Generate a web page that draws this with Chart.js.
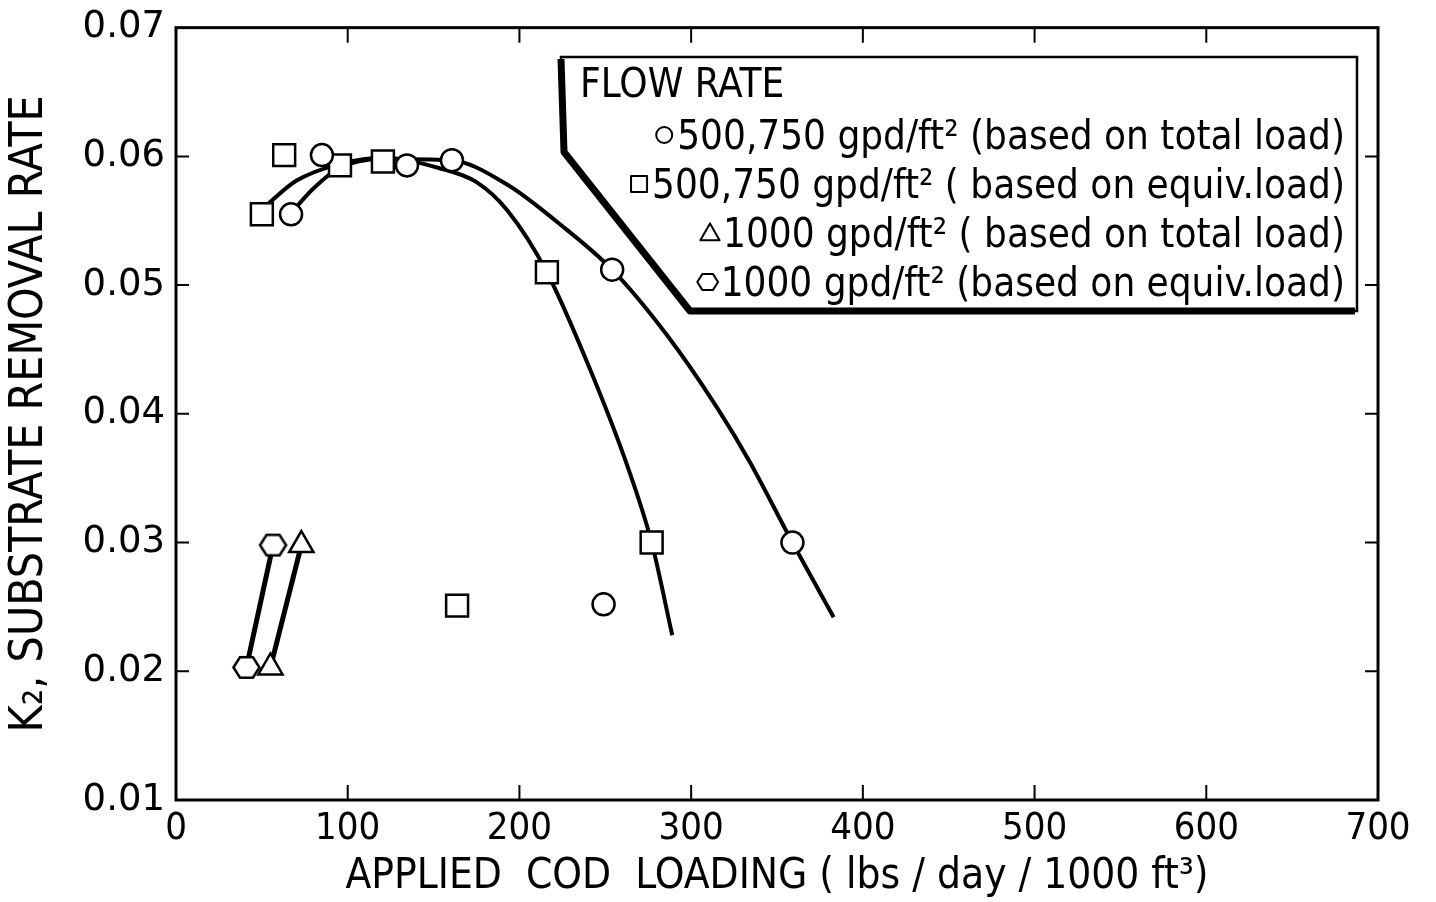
<!DOCTYPE html>
<html>
<head>
<meta charset="utf-8">
<script src="https://cdn.jsdelivr.net/npm/chart.js@4"></script>
<style>
  html, body { margin: 0; padding: 0; background: #fff; }
  #wrap { width: 1436px; height: 902px; }
</style>
</head>
<body>
<div id="wrap"><canvas id="chart"></canvas></div>
<script>
//// K2 vs applied COD loading

const xTicks = [0, 100, 200, 300, 400, 500, 600, 700];
const yTicks = [0.01, 0.02, 0.03, 0.04, 0.05, 0.06, 0.07];

// measured points
const circleX = [67, 85, 134.5, 160.7, 254, 359, 249];
const circleY = [0.0555, 0.0601, 0.0593, 0.0597, 0.0512, 0.0300, 0.0252];
const squareX = [50, 63, 95.5, 120.5, 216, 277, 163.7];
const squareY = [0.0555, 0.0601, 0.0593, 0.0596, 0.0510, 0.0300, 0.0251];
const triangleX = [55, 73];
const triangleY = [0.0203, 0.0298];
const hexagonX = [41, 56.5];
const hexagonY = [0.0203, 0.0298];

// hand drawn fit curves
const totalCurveX = [67, 80, 95, 120, 160, 193, 222, 254, 286, 315, 334, 359, 383];
const totalCurveY = [0.0556, 0.0575, 0.0591, 0.0598, 0.0597, 0.0578, 0.0549, 0.0512, 0.0461, 0.0405, 0.0363, 0.0300, 0.0242];
const equivCurveX = [51, 70, 95, 120, 153, 175, 193, 216, 241, 263, 277, 289];
const equivCurveY = [0.0560, 0.0581, 0.0594, 0.0599, 0.0591, 0.0580, 0.0558, 0.0510, 0.0435, 0.0359, 0.0300, 0.0228];

const legendTitle = 'FLOW RATE';
const legendLabels = [
  '500,750 gpd/ft\u00B2 (based on total load)',
  '500,750 gpd/ft\u00B2 ( based on equiv.load)',
  '1000 gpd/ft\u00B2 ( based on total load)',
  '1000 gpd/ft\u00B2 (based on equiv.load)'
];
const legendMarkers = ['circle', 'rect', 'triangle', 'hexagon'];

const NARROW = '"Liberation Sans Narrow", "DejaVu Sans Condensed", "Roboto Condensed", sans-serif';

function pts(xs, ys) {
  return xs.map((x, i) => ({x: x, y: ys[i]}));
}

function hexPath(ctx, x, y, r) {
  ctx.beginPath();
  for (let i = 0; i < 6; i++) {
    const a = i * Math.PI / 3;
    const px = x + r * Math.cos(a);
    const py = y + r * 0.9 * Math.sin(a);
    if (i === 0) ctx.moveTo(px, py); else ctx.lineTo(px, py);
  }
  ctx.closePath();
}

function hexCanvas(r, lw) {
  const c = document.createElement('canvas');
  const s = Math.ceil(2 * r + lw + 2);
  c.width = s; c.height = s;
  const g = c.getContext('2d');
  hexPath(g, s / 2, s / 2, r);
  g.fillStyle = '#fff';
  g.fill();
  g.lineWidth = lw;
  g.strokeStyle = '#000';
  g.stroke();
  return c;
}

function drawMarker(ctx, type, x, y, r) {
  ctx.beginPath();
  if (type === 'circle') {
    ctx.arc(x, y, r, 0, Math.PI * 2);
  } else if (type === 'rect') {
    ctx.rect(x - r, y - r, 2 * r, 2 * r);
  } else if (type === 'triangle') {
    ctx.moveTo(x, y - r * 1.2);
    ctx.lineTo(x + r * 1.2, y + r * 0.9);
    ctx.lineTo(x - r * 1.2, y + r * 0.9);
    ctx.closePath();
  } else {
    hexPath(ctx, x, y, r * 1.3);
  }
  ctx.fillStyle = '#fff';
  ctx.fill();
  ctx.stroke();
}

const framePlugin = {
  id: 'frame',
  afterDraw(chart) {
    const {ctx, chartArea: a, scales: {x, y}} = chart;
    ctx.save();
    ctx.strokeStyle = '#000';
    ctx.lineWidth = 3;
    ctx.strokeRect(a.left, a.top, a.right - a.left, a.bottom - a.top);

    // inward ticks on all four sides
    ctx.lineWidth = 2;
    ctx.beginPath();
    xTicks.slice(1, -1).forEach(v => {
      const px = x.getPixelForValue(v);
      ctx.moveTo(px, a.bottom); ctx.lineTo(px, a.bottom - 15);
      ctx.moveTo(px, a.top); ctx.lineTo(px, a.top + 15);
    });
    yTicks.slice(1, -1).forEach(v => {
      const py = y.getPixelForValue(v);
      ctx.moveTo(a.left, py); ctx.lineTo(a.left + 13, py);
      ctx.moveTo(a.right, py); ctx.lineTo(a.right - 13, py);
    });
    ctx.stroke();

    // legend box with heavy shadow edge
    const L = 561, T = 57, R = 1357, B = 311, bendY = 152, bendX = 564, footX = 690;
    ctx.beginPath();
    ctx.moveTo(L, T); ctx.lineTo(R, T); ctx.lineTo(R, B); ctx.lineTo(footX, B);
    ctx.lineTo(bendX, bendY); ctx.closePath();
    ctx.fillStyle = '#fff';
    ctx.fill();
    ctx.lineWidth = 2.5;
    ctx.stroke();
    ctx.lineWidth = 7;
    ctx.lineJoin = 'round';
    ctx.beginPath();
    ctx.moveTo(L, T + 2); ctx.lineTo(bendX, bendY); ctx.lineTo(footX, B); ctx.lineTo(R - 2, B);
    ctx.stroke();

    ctx.fillStyle = '#000';
    ctx.font = '40px ' + NARROW;
    ctx.textBaseline = 'alphabetic';
    ctx.textAlign = 'left';
    ctx.fillText(legendTitle, 580, 97);
    ctx.textAlign = 'right';
    ctx.lineWidth = 2;
    const baselines = [149, 198, 247, 296];
    legendLabels.forEach((t, i) => {
      ctx.fillStyle = '#000';
      ctx.fillText(t, 1345, baselines[i]);
      const w = ctx.measureText(t).width;
      drawMarker(ctx, legendMarkers[i], 1345 - w - 13, baselines[i] - 14, 8);
    });
    ctx.restore();
  }
};

const hexImg = hexCanvas(13, 2.5);

const markerCommon = {
  showLine: false,
  borderColor: '#000',
  backgroundColor: '#fff',
  pointBorderWidth: 2.5,
  order: 1
};

const curveCommon = {
  showLine: true,
  cubicInterpolationMode: 'monotone',
  borderColor: '#000',
  borderWidth: 4,
  pointRadius: 0,
  order: 5
};

new Chart(document.getElementById('chart'), {
  type: 'scatter',
  data: {
    datasets: [
      Object.assign({label: 'equiv curve', data: pts(equivCurveX, equivCurveY)}, curveCommon),
      Object.assign({label: 'total curve', data: pts(totalCurveX, totalCurveY)}, curveCommon),
      Object.assign({label: legendLabels[0], data: pts(circleX, circleY), pointStyle: 'circle', pointRadius: 11}, markerCommon),
      Object.assign({label: legendLabels[1], data: pts(squareX, squareY), pointStyle: 'rect', pointRadius: 15.5}, markerCommon),
      Object.assign({}, markerCommon, {label: legendLabels[2], data: pts(triangleX, triangleY), pointStyle: 'triangle',
       pointRadius: 14, showLine: true, borderWidth: 5}),
      Object.assign({}, markerCommon, {label: legendLabels[3], data: pts(hexagonX, hexagonY), pointStyle: hexImg,
       pointRadius: 12, showLine: true, borderWidth: 5})
    ]
  },
  options: {
    responsive: true,
    maintainAspectRatio: false,
    animation: false,
    layout: {padding: {left: 0, right: 58, top: 18, bottom: 0}},
    plugins: {legend: {display: false}, tooltip: {enabled: false}},
    scales: {
      x: {
        type: 'linear',
        min: 0, max: 700,
        afterFit: s => { s.height = 102; },
        afterBuildTicks: s => { s.ticks = xTicks.map(v => ({value: v})); },
        grid: {display: false, drawTicks: false},
        border: {display: false},
        ticks: {color: '#000', padding: 10, maxRotation: 0, font: {family: NARROW, size: 38, lineHeight: 1}},
        title: {display: true, text: 'APPLIED  COD  LOADING ( lbs / day / 1000 ft\u00B3)', color: '#000',
                font: {family: NARROW, size: 42, lineHeight: 1.2}, padding: {top: 0, bottom: 0}}
      },
      y: {
        type: 'linear',
        min: 0.01, max: 0.07,
        afterFit: s => { s.width = 176; },
        afterBuildTicks: s => { s.ticks = yTicks.map(v => ({value: v})); },
        grid: {display: false, drawTicks: false},
        border: {display: false},
        ticks: {color: '#000', padding: 11, font: {family: '"DejaVu Sans", sans-serif', size: 37, lineHeight: 0.9},
                callback: v => v.toFixed(2)},
        title: {display: true, text: 'K\u2082, SUBSTRATE REMOVAL RATE', color: '#000',
                font: {family: NARROW, size: 46, lineHeight: 1.2}, padding: {top: 2, bottom: 0}}
      }
    }
  },
  plugins: [framePlugin]
});
</script>
</body>
</html>
